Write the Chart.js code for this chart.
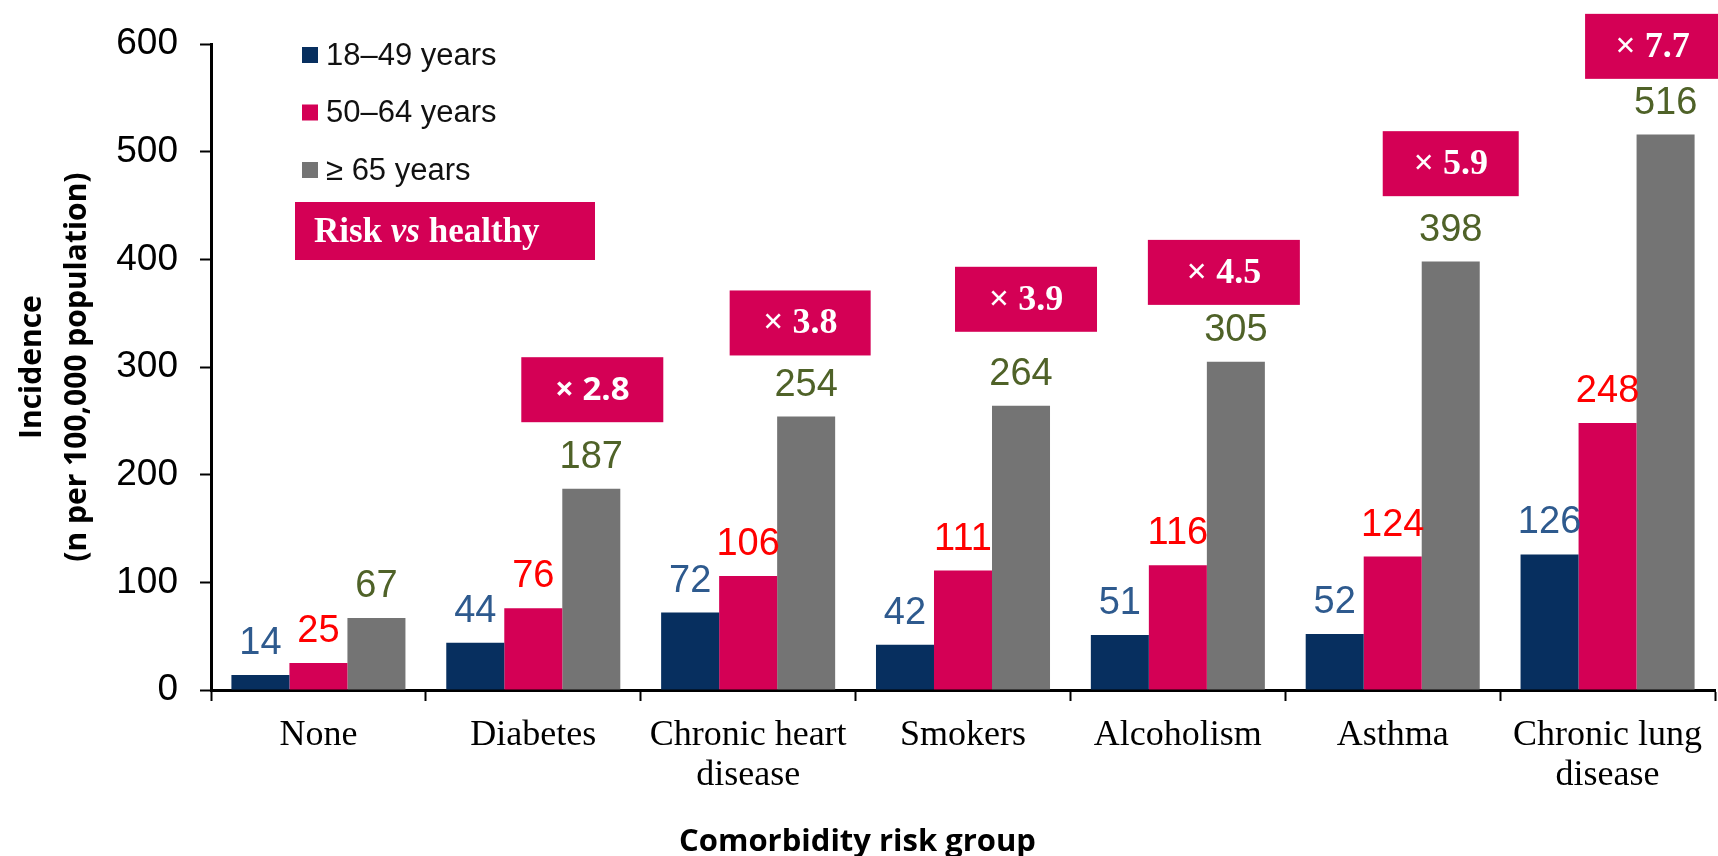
<!DOCTYPE html>
<html>
<head>
<meta charset="utf-8">
<title>Incidence by comorbidity risk group</title>
<script src="https://cdn.jsdelivr.net/npm/chart.js@4.4.1/dist/chart.umd.min.js"></script>
<style>
  html, body { margin: 0; padding: 0; background: #fff; }
  #wrap { width: 1718px; height: 856px; }
</style>
</head>
<body>
<div id="wrap"><canvas id="incidence" width="1718" height="856"></canvas></div>
<script>
const groups = ['None', 'Diabetes', ['Chronic heart', 'disease'], 'Smokers', 'Alcoholism', 'Asthma', ['Chronic lung', 'disease']];
const ageBands = ['18\u201349 years', '50\u201364 years', '\u2265 65 years'];

const age18to49 = [14, 44, 72, 42, 51, 52, 126];
const age50to64 = [25, 76, 106, 111, 116, 124, 248];
const age65plus = [67, 187, 254, 264, 305, 398, 516];

const yTicks = [0, 100, 200, 300, 400, 500, 600];

// risk multiplier vs healthy, one per risk group (None has none)
const ratios = [null, '\u00d7 2.8', '\u00d7 3.8', '\u00d7 3.9', '\u00d7 4.5', '\u00d7 5.9', '\u00d7 7.7'];

const barColors = ['#072F5F', '#D40055', '#747474'];
const labelColors = ['#2E5A8E', '#FF0000', '#4F6228'];
const pink = '#D40055';

// where each multiplier box sits: shift from the grey bar, vertical centre in axis units, width
const boxLayout = [
  null,
  { dx: 1, level: 279, w: 142, sans: true },
  { dx: -6, level: 341, w: 141 },
  { dx: 5, level: 363, w: 142 },
  { dx: -12, level: 388, w: 152 },
  { dx: 0, level: 489, w: 136 },
  { dx: -13, level: 598, w: 135 },
];

const valueLabels = {
  id: 'valueLabels',
  afterDatasetsDraw(chart) {
    const ctx = chart.ctx;
    ctx.save();
    ctx.font = '38px "Liberation Sans", Arial, sans-serif';
    ctx.textAlign = 'center';
    ctx.textBaseline = 'alphabetic';
    chart.data.datasets.forEach((ds, di) => {
      ctx.fillStyle = labelColors[di];
      chart.getDatasetMeta(di).data.forEach((bar, i) => {
        ctx.fillText(String(ds.data[i]), bar.x, bar.y - 21);
      });
    });
    ctx.restore();
  },
};

const ratioBoxes = {
  id: 'ratioBoxes',
  afterDraw(chart) {
    const ctx = chart.ctx;
    const y = chart.scales.y;
    const greyBars = chart.getDatasetMeta(2).data;
    ctx.save();
    ratios.forEach((txt, i) => {
      if (!txt) return;
      const lay = boxLayout[i];
      const cx = greyBars[i].x + lay.dx;
      const cy = y.getPixelForValue(lay.level);
      ctx.fillStyle = pink;
      ctx.fillRect(cx - lay.w / 2, cy - 32.5, lay.w, 65);
      ctx.fillStyle = '#fff';
      ctx.textAlign = 'center';
      ctx.textBaseline = 'middle';
      ctx.font = lay.sans
        ? 'bold 33px "Open Sans", sans-serif'
        : 'bold 36px "Liberation Serif", serif';
      ctx.fillText(txt, cx, cy + 1);
    });

    // "Risk vs healthy" key box
    ctx.fillStyle = pink;
    ctx.fillRect(295, 202, 300, 58);
    ctx.fillStyle = '#fff';
    ctx.textAlign = 'left';
    ctx.textBaseline = 'alphabetic';
    const parts = [
      ['bold 35px "Liberation Serif", serif', 'Risk '],
      ['italic bold 35px "Liberation Serif", serif', 'vs'],
      ['bold 35px "Liberation Serif", serif', ' healthy'],
    ];
    let x = 314;
    parts.forEach(([font, s]) => {
      ctx.font = font;
      ctx.fillText(s, x, 242);
      x += ctx.measureText(s).width;
    });
    ctx.restore();
  },
};

const sideLegend = {
  id: 'sideLegend',
  afterDraw(chart) {
    const ctx = chart.ctx;
    ctx.save();
    ctx.font = '31px "Liberation Sans", Arial, sans-serif';
    ctx.textBaseline = 'middle';
    ctx.textAlign = 'left';
    chart.data.datasets.forEach((ds, i) => {
      const cy = 55 + i * 57.5;
      ctx.fillStyle = barColors[i];
      ctx.fillRect(302, cy - 8, 16, 16);
      ctx.fillStyle = '#111';
      ctx.fillText(ds.label, 326, cy + 1);
    });
    ctx.restore();
  },
};

new Chart(document.getElementById('incidence'), {
  type: 'bar',
  data: {
    labels: groups,
    datasets: [
      { label: ageBands[0], data: age18to49, backgroundColor: barColors[0] },
      { label: ageBands[1], data: age50to64, backgroundColor: barColors[1] },
      { label: ageBands[2], data: age65plus, backgroundColor: barColors[2] },
    ],
  },
  options: {
    responsive: false,
    animation: false,
    layout: { padding: { top: 39, right: 3, left: 0, bottom: 0 } },
    datasets: { bar: { categoryPercentage: 0.81, barPercentage: 1.0 } },
    plugins: {
      legend: { display: false },
      tooltip: { enabled: false },
      title: {
        display: true,
        position: 'bottom',
        text: 'Comorbidity risk group',
        color: '#000',
        font: { family: '"Open Sans", sans-serif', weight: 'bold', size: 31, lineHeight: 1.0 },
        padding: { top: 25, bottom: -2 },
      },
    },
    scales: {
      x: {
        border: { color: '#000', width: 3 },
        grid: { display: true, drawOnChartArea: false, offset: true, tickLength: 11, tickColor: '#000', tickWidth: 2 },
        ticks: {
          color: '#000',
          padding: 15,
          maxRotation: 0,
          autoSkip: false,
          font: { family: '"Liberation Serif", serif', size: 36, lineHeight: 1.1 },
        },
        afterFit(scale) { scale.height = 112; },
      },
      y: {
        min: 0,
        max: 600,
        border: { color: '#000', width: 3 },
        grid: { display: true, drawOnChartArea: false, tickLength: 11, tickColor: '#000', tickWidth: 2 },
        afterBuildTicks(scale) { scale.ticks = yTicks.map((v) => ({ value: v })); },
        ticks: {
          color: '#000',
          padding: 22,
          font: { family: '"Liberation Sans", Arial, sans-serif', size: 37 },
        },
        title: {
          display: true,
          text: ['Incidence', '(n per 100,000 population)'],
          color: '#000',
          font: { family: '"Open Sans", sans-serif', weight: 'bold', size: 30, lineHeight: 1.5 },
          padding: { top: 10, bottom: 0 },
        },
        afterFit(scale) { scale.width = 211; },
      },
    },
  },
  plugins: [valueLabels, ratioBoxes, sideLegend],
});
</script>
</body>
</html>
